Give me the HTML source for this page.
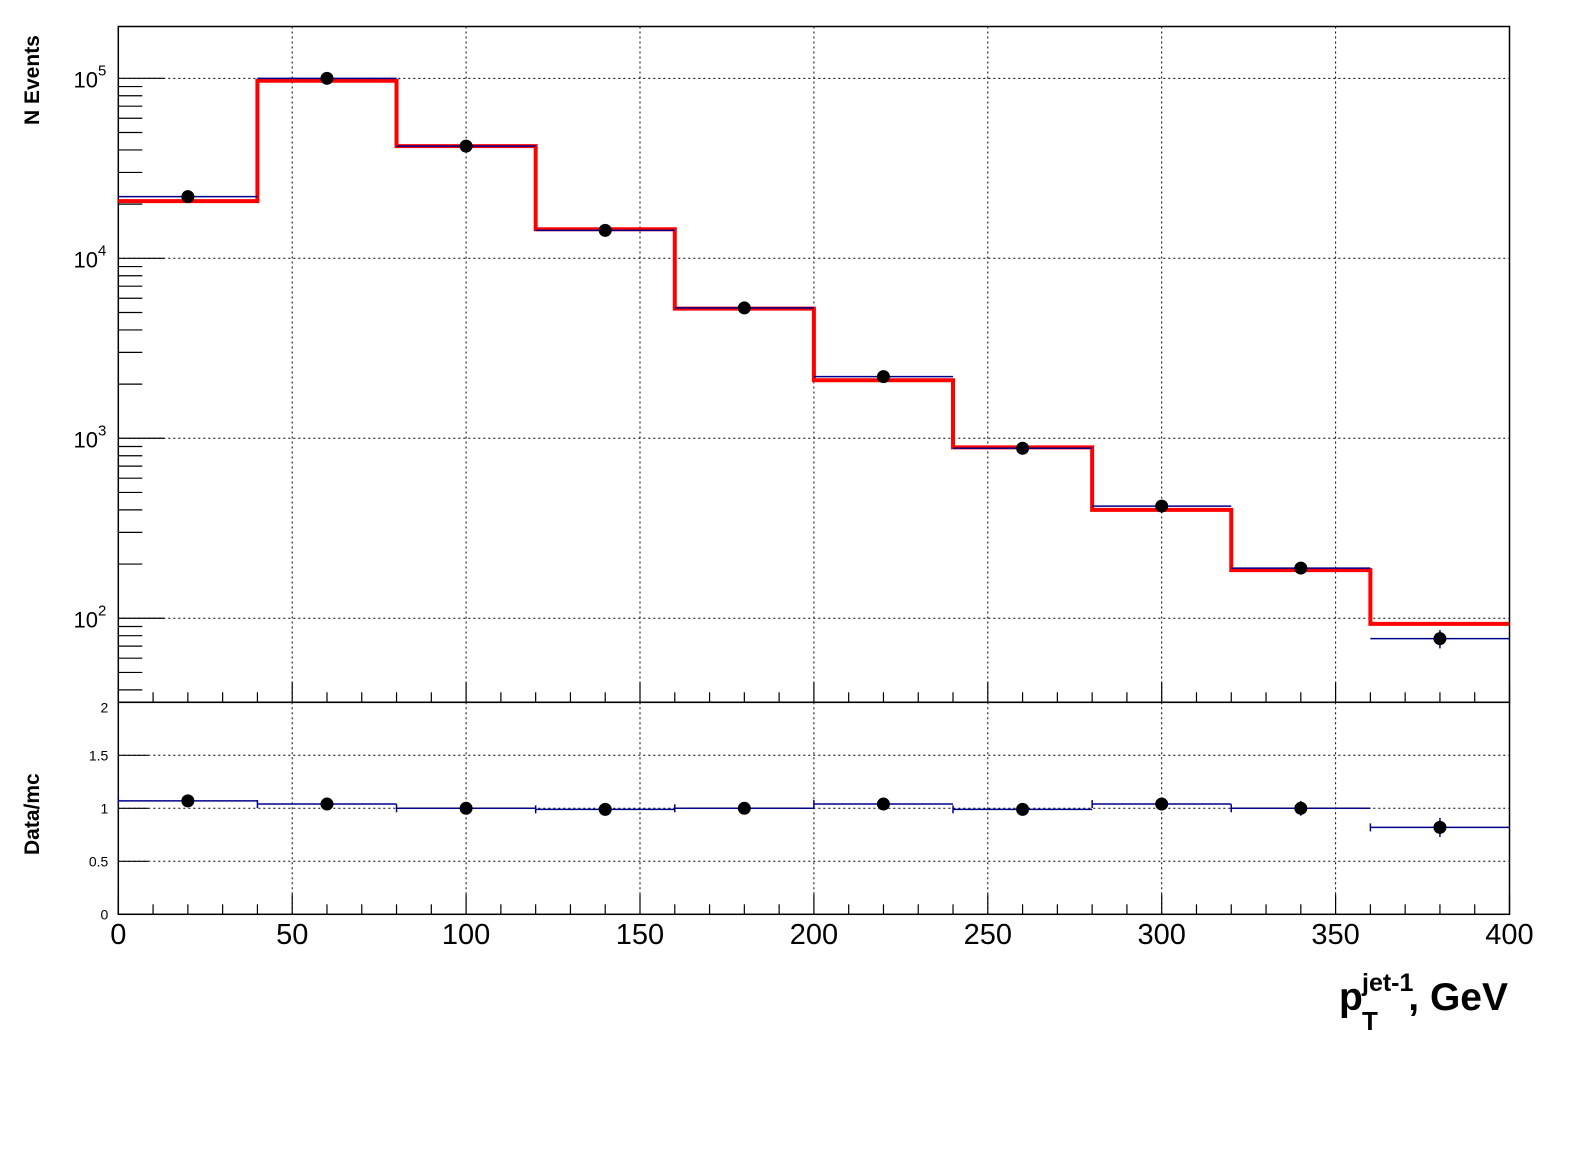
<!DOCTYPE html>
<html><head><meta charset="utf-8"><style>
html,body{margin:0;padding:0;background:#fff}
svg{display:block;font-family:"Liberation Sans",Arial,sans-serif}
</style></head><body>
<svg id="c" width="1596" height="1172" xmlns="http://www.w3.org/2000/svg"></svg>
<script>
const binEdges=[0,40,80,120,160,200,240,280,320,360,400];
const dataVals=[22000,100000,42000,14300,5300,2200,880,420,190,77];
const dataErrs=[150,320,205,120,73,47,30,20,14,9];
const mcVals=[20800,97000,42000,14500,5250,2100,890,400,185,93];
const ratioVals=[1.07,1.04,1.0,0.99,1.0,1.04,0.99,1.04,1.0,0.82];
const ratioErrs=[0.01,0.005,0.005,0.01,0.015,0.02,0.03,0.05,0.07,0.09];
const xTicks=[0,50,100,150,200,250,300,350,400];
const rTicks=[0,0.5,1,1.5,2];
const rTickLabels=["0","0.5","1","1.5","2"];

const NS="http://www.w3.org/2000/svg";
const svg=document.getElementById('c');
const L=118.3,R=1509.5,T1=26.5,B1=702.3,B2=914.3;
const X=v=>L+(v-0)/(400)*(R-L);
const LMIN=1.533,LMAX=5.288;
const Y=v=>B1-(Math.log10(v)-LMIN)/(LMAX-LMIN)*(B1-T1);
const YR=v=>B2-v/2*(B2-B1);
function mk(tag,attrs,parent){const e=document.createElementNS(NS,tag);for(const k in attrs)e.setAttribute(k,attrs[k]);(parent||svg).appendChild(e);return e;}

const grid=mk('g',{});


xTicks.slice(1,-1).forEach(t=>{
  mk('line',{x1:X(t),x2:X(t),y1:T1,y2:B1,stroke:'#000','stroke-dasharray':'2,3','stroke-width':1},grid);
  mk('line',{x1:X(t),x2:X(t),y1:B1,y2:B2,stroke:'#000','stroke-dasharray':'2,3','stroke-width':1},grid);
});
[2,3,4,5].forEach(d=>mk('line',{x1:L,x2:R,y1:Y(Math.pow(10,d)),y2:Y(Math.pow(10,d)),stroke:'#000','stroke-dasharray':'2,3'},grid));
[0.5,1,1.5].forEach(v=>mk('line',{x1:L,x2:R,y1:YR(v),y2:YR(v),stroke:'#000','stroke-dasharray':'2,3'},grid));

const f1=mk('rect',{x:L,y:T1,width:R-L,height:B1-T1,fill:'none',stroke:'#000','stroke-width':1.5});

const f2=mk('rect',{x:L,y:B1,width:R-L,height:B2-B1,fill:'none',stroke:'#000','stroke-width':1.5});


const yt=mk('g',{});


for(let d=1;d<=5;d++){for(let m=1;m<10;m++){const v=m*Math.pow(10,d);const y=Y(v);if(y<T1||y>B1)continue;
  mk('line',{x1:L,x2:L+(m==1?46:24),y1:y,y2:y,stroke:'#000','stroke-width':1.2},yt);}}
[2,3,4,5].forEach(d=>{const t=mk('text',{x:L-12,y:Y(Math.pow(10,d))+9,'text-anchor':'end','font-size':22},yt);t.textContent='10';
  const s=mk('tspan',{dy:-12,'font-size':15},t);s.textContent=String(d);});
rTicks.forEach((v,i)=>{mk('line',{x1:L,x2:L+30,y1:YR(v),y2:YR(v),stroke:'#000','stroke-width':1.2},yt);
  const t=mk('text',{x:L-10,y:YR(v)+(i==4?10:5),'text-anchor':'end','font-size':14},yt);t.textContent=rTickLabels[i];});

const xt=mk('g',{});


for(let v=0;v<=400;v+=10){const maj=v%50==0;
  mk('line',{x1:X(v),x2:X(v),y1:B1,y2:B1-(maj?20:10),stroke:'#000','stroke-width':1.2},xt);
  mk('line',{x1:X(v),x2:X(v),y1:B2,y2:B2-(maj?20:10),stroke:'#000','stroke-width':1.2},xt);}
xTicks.forEach(v=>{const t=mk('text',{x:X(v),y:944,'text-anchor':'middle','font-size':29},xt);t.textContent=String(v);});

let d='';
mcVals.forEach((v,i)=>{const x0=X(binEdges[i]),x1=X(binEdges[i+1]),y=Y(v);d+=(i==0?'M':'L')+x0+','+y+'L'+x1+','+y;});
const mc=mk('path',{d:d,fill:'none',stroke:'#ff0000','stroke-width':4});



const dg=mk('g',{});


dataVals.forEach((v,i)=>{const xc=X((binEdges[i]+binEdges[i+1])/2),y=Y(v);
  mk('line',{x1:X(binEdges[i]),x2:X(binEdges[i+1]),y1:y,y2:y,stroke:'#00008b','stroke-width':1.5},dg);
  const e=dataErrs[i];
  mk('line',{x1:xc,x2:xc,y1:Y(v+e),y2:Y(v-e),stroke:'#00008b','stroke-width':1.5},dg);
  const c=mk('circle',{cx:xc,cy:y,r:6.5,fill:'#000'},dg);
  
  });

const rg=mk('g',{});


ratioVals.forEach((v,i)=>{const xc=X((binEdges[i]+binEdges[i+1])/2),y=YR(v);
  mk('line',{x1:X(binEdges[i]),x2:X(binEdges[i+1]),y1:y,y2:y,stroke:'#00008b','stroke-width':1.5},rg);
  mk('line',{x1:X(binEdges[i]),x2:X(binEdges[i]),y1:y-4,y2:y+4,stroke:'#00008b','stroke-width':1.5},rg);
  const e=ratioErrs[i];
  mk('line',{x1:xc,x2:xc,y1:YR(v+e),y2:YR(v-e),stroke:'#00008b','stroke-width':1.5},rg);
  const c=mk('circle',{cx:xc,cy:y,r:6.5,fill:'#000'},rg);
  
  });
</script>
<svg style="position:absolute;left:0;top:0" width="1596" height="1172" xmlns="http://www.w3.org/2000/svg">
<text transform="translate(39,125) rotate(-90)" font-family="Liberation Sans,sans-serif" font-weight="bold" font-size="21">N Events</text>
<text transform="translate(39,855) rotate(-90)" font-family="Liberation Sans,sans-serif" font-weight="bold" font-size="21">Data/mc</text>
<g font-family="Liberation Sans,sans-serif" font-weight="bold">
<text x="1339" y="1010" font-size="39">p</text>
<text x="1362" y="1030" font-size="26">T</text>
<text x="1362" y="991" font-size="25">jet-1</text>
<text x="1508" y="1010" font-size="39" text-anchor="end">, GeV</text>
</g>
</svg>
</body></html>
